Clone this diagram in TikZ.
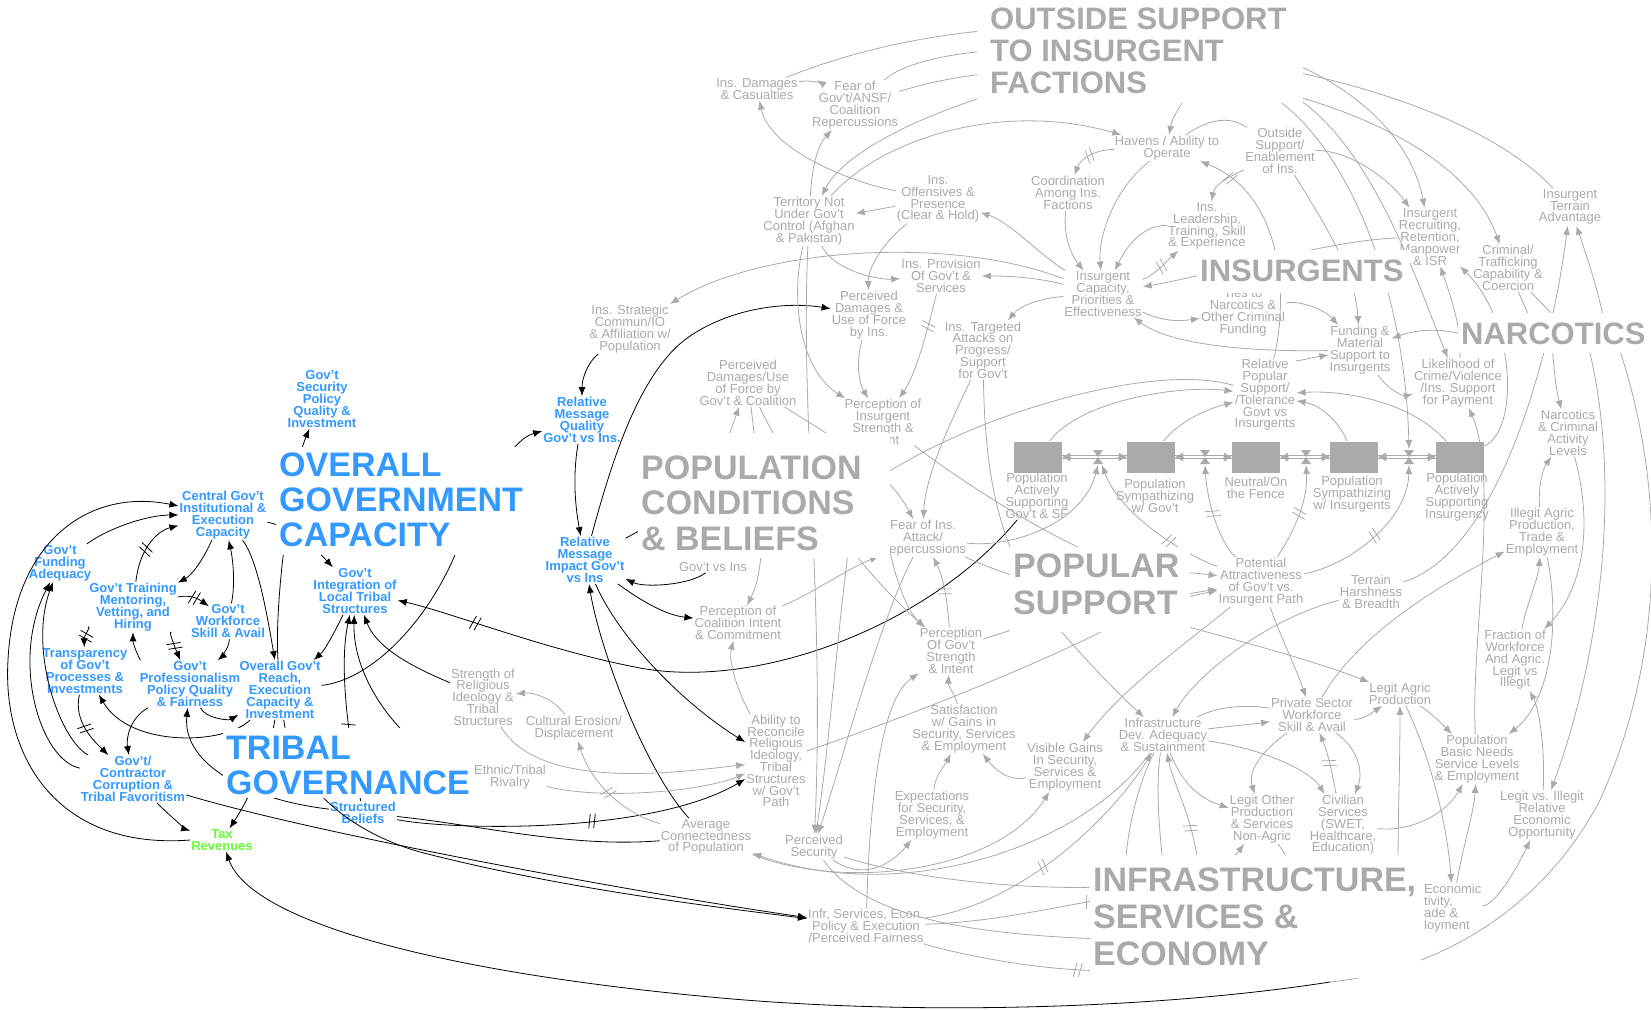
\documentclass[tikz,border=0pt]{standalone}
\usepackage{fontspec}
\setmainfont{Liberation Sans}
\usetikzlibrary{arrows.meta,decorations.markings}
\definecolor{bluec}{RGB}{51,153,255}
\definecolor{grayc}{RGB}{170,170,170}
\definecolor{greenc}{RGB}{102,255,51}
\lineskiplimit=-60pt
\tikzset{
  bt/.style={text=bluec, font=\bfseries\fontsize{13}{12}\selectfont, align=center, inner sep=1pt},
  gt/.style={text=grayc, font=\fontsize{13}{11.8}\selectfont, align=center, inner sep=1pt},
  bigl/.style={font=\bfseries\fontsize{34}{35}\selectfont, align=left, inner sep=0pt, anchor=west},
  ba/.style={draw=black, line width=0.8pt, -{Latex[length=9pt,width=7pt]}},
  bn/.style={draw=black, line width=0.8pt},
  ga/.style={draw=grayc, line width=0.8pt, -{Latex[length=9pt,width=7pt]}},
  gn/.style={draw=grayc, line width=0.8pt},
  bdel/.style={postaction={decorate,decoration={markings,mark=at position #1 with {\draw[black,line width=0.8pt,-] (-4pt,-7pt) -- (-1pt,7pt) (1pt,-7pt) -- (4pt,7pt);}}}},
  bdel/.default=0.5,
  gdel/.style={postaction={decorate,decoration={markings,mark=at position #1 with {\draw[grayc,line width=0.8pt,-] (-4pt,-7pt) -- (-1pt,7pt) (1pt,-7pt) -- (4pt,7pt);}}}},
  gdel/.default=0.5,
  stock/.style={fill=grayc, minimum width=48pt, minimum height=31pt, inner sep=0pt},
  pipetip/.style={draw=grayc, line width=0.4pt, -{Latex[length=8pt,width=9pt]}},
}
\begin{document}
\begin{tikzpicture}[x=1pt,y=-1pt]
\useasboundingbox (0,0) rectangle (1651,1010);
\fill[white] (0,0) rectangle (1651,1010);

% ---------------- blue / left nodes
\node[bt] (secpol) at (322,399) {Gov't\\Security\\Policy\\Quality \&\\Investment};
\node[bt] (central) at (223,515) {Central Gov't\\Institutional \&\\Execution\\Capacity};
\node[bt] (govfund) at (60,563) {Gov't\\Funding\\Adequacy};
\node[bt] (training) at (133,607) {Gov't Training\\Mentoring,\\Vetting, and\\Hiring};
\node[bt] (workforce) at (228,621) {Gov't\\Workforce\\Skill \& Avail};
\node[bt] (integ) at (355,591) {Gov't\\Integration of\\Local Tribal\\Structures};
\node[bt] (transp) at (85,671) {Transparency\\of Gov't\\Processes \&\\Investments};
\node[bt] (prof) at (190,684) {Gov't\\Professionalism\\Policy Quality\\\& Fairness};
\node[bt] (reach) at (280,690) {Overall Gov't\\Reach,\\Execution\\Capacity \&\\Investment};
\node[bt] (corrupt) at (133,779) {Gov't/\\Contractor\\Corruption \&\\Tribal Favoritism};
\node[bt,text=greenc] (tax) at (222,840) {Tax\\Revenues};
\node[bt] (relq) at (582,420) {Relative\\Message\\Quality\\Gov't vs Ins.};
\node[bt] (reli) at (585,560) {Relative\\Message\\Impact Gov't\\vs Ins};
\node[bt] (beliefs) at (363,813) {Structured\\Beliefs};

% ---------------- gray nodes
\node[gt] (insdam) at (757,89) {Ins. Damages\\\& Casualties};
\node[gt] (fear) at (855,105) {Fear of\\Gov't/ANSF/\\Coalition\\Repercussions};
\node[gt] (territory) at (809,221) {Territory Not\\Under Gov't\\Control (Afghan\\\& Pakistan)};
\node[gt] (strat) at (630,329) {Ins. Strategic\\Commun/IO\\\& Affiliation w/\\Population};
\node[gt] (havens) at (1167,148) {Havens / Ability to\\Operate};
\node[gt] (outsup) at (1280,151) {Outside\\Support/\\Enablement\\of Ins.};
\node[gt] (coord) at (1068,193) {Coordination\\Among Ins.\\Factions};
\node[gt] (offens) at (938,199) {Ins.\\Offensives \&\\Presence\\(Clear \& Hold)};
\node[gt] (leader) at (1207,226) {Ins.\\Leadership,\\Training, Skill\\\& Experience};
\node[gt] (provision) at (941,276) {Ins. Provision\\Of Gov't \&\\Services};
\node[gt] (inscap) at (1103,294) {Insurgent\\Capacity,\\Priorities \&\\Effectiveness};
\node[gt] (percdamins) at (869,315) {Perceived\\Damages \&\\Use of Force\\by Ins.};
\node[gt] (targeted) at (983,350) {Ins. Targeted\\Attacks on\\Progress/\\Support\\for Gov't};
\node[gt] (ties) at (1243,312) {Ties to\\Narcotics \&\\Other Criminal\\Funding};
\node[gt] (recruit) at (1430,237) {Insurgent\\Recruiting,\\Retention,\\Manpower\\\& ISR};
\node[gt] (terrain) at (1570,207) {Insurgent\\Terrain\\Advantage};
\node[gt] (criminal) at (1508,268) {Criminal/\\Trafficking\\Capability \&\\Coercion};
\node[gt] (fundmat) at (1360,350) {Funding \&\\Material\\Support to\\Insurgents};
\node[gt] (likeli) at (1458,383) {Likelihood of\\Crime/Violence\\/Ins. Support\\for Payment};
\node[gt] (relpop) at (1265,395) {Relative\\Popular\\Support/\\/Tolerance\\Govt vs\\Insurgents};
\node[gt] (narcact) at (1568,433) {Narcotics\\\& Criminal\\Activity\\Levels};
\node[stock] (s1) at (1038,457) {};
\node[stock] (s2) at (1151,457) {};
\node[stock] (s3) at (1256,457) {};
\node[stock] (s4) at (1354,457) {};
\node[stock] (s5) at (1460,457) {};
\coordinate (v12) at (1098,457);
\coordinate (v23) at (1205,457);
\coordinate (v34) at (1306,457);
\coordinate (v45) at (1409,457);
\node[gt] (l1) at (1037,496) {Population\\Actively\\Supporting\\Gov't \& SF};
\node[gt] (l2) at (1155,496) {Population\\Sympathizing\\w/ Gov't};
\node[gt] (l3) at (1256,488) {Neutral/On\\the Fence};
\node[gt] (l4) at (1352,494) {Population\\Sympathizing\\w/ Insurgents};
\node[gt] (l5) at (1457,497) {Population\\Actively\\Supporting\\Insurgency};
\node[gt] (potential) at (1261,582) {Potential\\Attractiveness\\of Gov't vs.\\Insurgent Path};
\node[gt] (harsh) at (1371,592) {Terrain\\Harshness\\\& Breadth};
\node[gt] (illegit) at (1542,532) {Illegit Agric\\Production,\\Trade \&\\Employment};
\node[gt] (fraction) at (1515,660) {Fraction of\\Workforce\\And Agric.\\Legit vs\\Illegit};
\node[gt] (percinsstr) at (883,422) {Perception of\\Insurgent\\Strength \&\\Intent};
\node[gt] (fearins) at (923,538) {Fear of Ins.\\Attack/\\Repercussions};
\node[gt] (percgovstr) at (951,651) {Perception\\Of Gov't\\Strength\\\& Intent};
\node[gt] (percdamgov) at (748,383) {Perceived\\Damages/Use\\of Force by\\Gov't \& Coalition};
\node[gt] (govvs) at (713,567) {Gov't vs Ins};
\node[gt] (perccoal) at (738,623) {Perception of\\Coalition Intent\\\& Commitment};
\node[gt] (strength) at (483,697) {Strength of\\Religious\\Ideology \&\\Tribal\\Structures};
\node[gt] (cultural) at (574,728) {Cultural Erosion/\\Displacement};
\node[gt] (ethnic) at (510,777) {Ethnic/Tribal\\Rivalry};
\node[gt] (ability) at (776,761) {Ability to\\Reconcile\\Religious\\Ideology,\\Tribal\\Structures\\w/ Gov't\\Path};
\node[gt] (avgconn) at (706,837) {Average\\Connectedness\\of Population};
\node[gt] (infr) at (866,926) {Infr, Services, Econ.\\Policy \& Execution\\/Perceived Fairness};
\node[gt] (percsec) at (814,847) {Perceived\\Security};
\node[gt] (satisf) at (964,729) {Satisfaction\\w/ Gains in\\Security, Services\\\& Employment};
\node[gt] (visible) at (1065,767) {Visible Gains\\In Security,\\Services \&\\Employment};
\node[gt] (infradev) at (1163,735) {Infrastructure\\Dev. Adequacy\\\& Sustainment};
\node[gt] (expect) at (932,815) {Expectations\\for Security,\\Services, \&\\Employment};
\node[gt] (legitagric) at (1400,694) {Legit Agric\\Production};
\node[gt] (private) at (1312,715) {Private Sector\\Workforce\\Skill \& Avail};
\node[gt] (basic) at (1477,759) {Population\\Basic Needs\\Service Levels\\\& Employment};
\node[gt] (legitother) at (1262,819) {Legit Other\\Production\\\& Services\\Non-Agric};
\node[gt] (civilian) at (1343,825) {Civilian\\Services\\(SWET,\\Healthcare,\\Education)};
\node[gt] (legitvs) at (1542,815) {Legit vs. Illegit\\Relative\\Economic\\Opportunity};
\node[gt,align=left,anchor=west] (econ) at (1423,908) {Economic\\tivity,\\ade \&\\loyment};

% hidden coordinates (under big labels)
\coordinate (o1) at (1000,92);
\coordinate (o2) at (1185,98);
\coordinate (o3) at (1275,98);
\coordinate (o4) at (1297,98);
\coordinate (n1) at (1535,330);
\coordinate (n2) at (1567,330);
\coordinate (n3) at (1470,336);
\coordinate (n4) at (1588,345);
\coordinate (n5) at (1552,345);
\coordinate (n6) at (1605,325);
\coordinate (nL1) at (1618,345);
\coordinate (nc1) at (1330,982);
\coordinate (h1) at (855,495);
\coordinate (h2) at (652,524);
\coordinate (p1) at (716,470);
\coordinate (e1) at (1150,940);
\coordinate (e2) at (1130,895);
\coordinate (e3) at (1130,970);
\coordinate (e4) at (1125,880);
\coordinate (e5) at (1165,880);
\coordinate (e6) at (1200,880);
\coordinate (e7) at (1295,875);
\coordinate (e8) at (1398,865);

% ---------------- stock pipes and valves
\foreach \a/\b/\v in {s1/s2/v12,s2/s3/v23,s3/s4/v34,s4/s5/v45}{
  \draw[grayc,line width=0.7pt] ([yshift=1.8pt]\a.east) -- ([yshift=1.8pt]\b.west) ([yshift=-1.8pt]\a.east) -- ([yshift=-1.8pt]\b.west);
  \draw[pipetip] ([xshift=-9pt]\b.west) -- (\b.west);
  \draw[pipetip] ([xshift=9pt]\a.east) -- (\a.east);
  \fill[grayc] ([shift={(-5pt,7pt)}]\v) -- ([shift={(5pt,7pt)}]\v) -- (\v) -- cycle ([shift={(-5pt,-7pt)}]\v) -- ([shift={(5pt,-7pt)}]\v) -- (\v) -- cycle;
}

% ---------------- black connectors
\draw[ba] (reach) .. controls (274,600) and (292,470) .. (secpol);
\draw[ba] (govfund) .. controls (112,526) and (150,515) .. (central);
\draw[ba] (tax.west) .. controls (60,850) and (2,760) .. (8,660) .. controls (14,540) and (90,488) .. (central);
\draw[ba] (corrupt) .. controls (40,760) and (10,660) .. (govfund);
\draw[ba] (corrupt) .. controls (60,740) and (28,650) .. (govfund);
\draw[ba] (central) .. controls (203,560) and (192,575) .. (training);
\draw[ba,bdel=0.45] (training) .. controls (140,545) and (160,530) .. (central);
\draw[ba] (workforce) .. controls (236,580) and (232,555) .. (central);
\draw[ba] (central) .. controls (258,560) and (268,620) .. (reach);
\draw[ba] (central) .. controls (290,526) and (315,548) .. (integ);
\draw[ba,bdel] ([yshift=10pt]training.east) .. controls (192,594) and (200,600) .. ([xshift=19pt,yshift=-3pt]workforce.north west);
\draw[ba,bdel] (training) .. controls (92,625) and (84,636) .. (transp);
\draw[ba,bdel] (training) .. controls (168,630) and (174,645) .. (prof);
\draw[ba] (workforce) .. controls (230,648) and (218,660) .. (prof);
\draw[ba] (prof) .. controls (140,660) and (133,645) .. (training);
\draw[ba] (integ) .. controls (333,635) and (325,650) .. (reach);
\draw[ba,bdel=0.4] (beliefs) .. controls (345,720) and (340,660) .. (integ);
\draw[ba] (strength) .. controls (425,672) and (378,652) .. (integ);
\draw[ba] (ethnic) .. controls (420,765) and (352,690) .. (integ);
\draw[ba,bdel=0.88] (l1) .. controls (930,625) and (760,690) .. (640,668) .. controls (545,650) and (450,612) .. (integ);
\draw[ba] (reach) .. controls (370,680) and (425,625) .. (455,555) .. controls (485,490) and (510,440) .. (relq);
\draw[ba] (relq) .. controls (572,480) and (576,510) .. (reli);
\draw[ba] (strat) .. controls (588,362) and (582,378) .. (relq);
\draw[ba] (reli) .. controls (612,460) and (640,370) .. (690,336) .. controls (735,306) and (790,302) .. (percdamins);
\draw[ba] (govvs) .. controls (690,585) and (645,588) .. (reli);
\draw[bn] (reli) -- (h2);
\draw[ba] (reli) .. controls (640,600) and (665,615) .. (perccoal);
\draw[ba] (reli) .. controls (620,640) and (685,705) .. (ability);
\draw[ba] (avgconn) .. controls (645,770) and (600,650) .. (reli);
\draw[ba,bdel=0.55] (beliefs) .. controls (450,830) and (650,835) .. (ability);
\draw[bn] (avgconn) .. controls (570,848) and (480,825) .. (beliefs);
\draw[ba] (reach) .. controls (268,760) and (248,800) .. (tax);
\draw[ba] (corrupt) .. controls (172,818) and (188,830) .. (tax);
\draw[ba] (beliefs) .. controls (250,800) and (182,765) .. (prof);
\draw[ba] (reach) .. controls (225,745) and (130,748) .. (transp);
\draw[ba] (prof) .. controls (205,718) and (228,721) .. (reach);
\draw[ba,bdel] (transp) .. controls (73,722) and (95,742) .. (corrupt);
\draw[ba] (prof) .. controls (130,718) and (126,738) .. (corrupt);
\draw[ba] (corrupt) .. controls (320,835) and (650,895) .. (infr);
\draw[ba] (reach) .. controls (292,785) and (350,832) .. (420,852) .. controls (560,888) and (700,905) .. (infr);
\draw[ba] (nc1) .. controls (1150,1010) and (900,1016) .. (700,996) .. controls (430,970) and (250,920) .. (tax);
\draw[gn] (nL1) .. controls (1664,480) and (1668,650) .. (1600,800) .. controls (1540,915) and (1430,972) .. (nc1);

% ---------------- gray connectors
\draw[ga] (insdam) .. controls (808,80) and (820,82) .. (fear);
\draw[ga] (insdam) .. controls (880,40) and (1000,18) .. (1150,30) .. controls (1330,45) and (1410,130) .. (recruit);
\draw[gn] (fear) .. controls (905,62) and (960,45) .. (1100,48) .. controls (1350,60) and (1500,130) .. (terrain);
\draw[ga] (fear) .. controls (930,82) and (980,68) .. (1120,66) .. controls (1350,85) and (1470,160) .. (criminal);
\draw[ga] (o1) .. controls (930,112) and (845,150) .. (territory);
\draw[ga] (territory) .. controls (880,140) and (1000,100) .. (havens);
\draw[ga] (offens) .. controls (850,182) and (770,150) .. (insdam);
\draw[ga] (offens) .. controls (885,208) and (870,211) .. (territory);
\draw[ga] (territory) .. controls (812,165) and (818,145) .. (fear);
\draw[ga] (inscap) .. controls (950,235) and (760,248) .. (strat);
\draw[ga] (territory) .. controls (835,272) and (880,280) .. (provision);
\draw[ga] (offens) .. controls (880,245) and (868,270) .. (percdamins);
\draw[ga] (inscap) .. controls (1040,255) and (1010,222) .. (offens);
\draw[ga] (inscap) .. controls (1030,276) and (1000,276) .. (provision);
\draw[ga] (inscap) .. controls (1040,298) and (1020,306) .. (targeted);
\draw[ga,gdel] (havens) .. controls (1092,150) and (1080,160) .. (coord);
\draw[ga] (havens) .. controls (1112,190) and (1098,240) .. (inscap);
\draw[ga] (coord) .. controls (1062,240) and (1075,260) .. (inscap);
\draw[ga] (leader) .. controls (1140,225) and (1125,250) .. (inscap);
\draw[ga,gdel] (inscap) .. controls (1155,275) and (1170,258) .. (leader);
\draw[ga] (recruit) .. controls (1330,240) and (1225,272) .. (inscap);
\draw[ga] (inscap) .. controls (1160,320) and (1175,322) .. (ties);
\draw[ga,gdel=0.85] (relpop) .. controls (1288,300) and (1285,195) .. (havens);
\draw[ga] (o2) .. controls (1178,110) and (1172,118) .. (havens);
\draw[gn] (havens) .. controls (1200,125) and (1225,112) .. (outsup);
\draw[ga] (outsup) .. controls (1240,172) and (1215,182) .. (leader);
\draw[ga] (outsup) .. controls (1350,150) and (1390,180) .. (recruit);
\draw[ga] (outsup) .. controls (1322,220) and (1355,270) .. (fundmat);
\draw[ga] (ties) .. controls (1300,300) and (1325,310) .. (fundmat);
\draw[ga] (o3) .. controls (1350,150) and (1405,290) .. ([yshift=8pt]v45);
\draw[ga] (o4) .. controls (1375,150) and (1420,290) .. (likeli);
\draw[ga] (likeli) .. controls (1462,330) and (1452,300) .. (recruit);
\draw[ga] (s5) .. controls (1520,430) and (1515,320) .. (recruit);
\draw[gn] (criminal) -- (n1);
\draw[gn] (criminal) -- (n2);
\draw[ga] (n3) .. controls (1440,327) and (1415,330) .. (fundmat);
\draw[ga] (fundmat) .. controls (1390,392) and (1405,396) .. (likeli);
\draw[ga] (relpop) .. controls (1295,362) and (1310,358) .. (fundmat);
\draw[ga] (s4) .. controls (1338,420) and (1320,405) .. (relpop);
\draw[ga] (s5) .. controls (1410,400) and (1340,390) .. (relpop);
\draw[ga] (s1) .. controls (1080,400) and (1180,385) .. (relpop);
\draw[ga] (s2) .. controls (1180,420) and (1210,408) .. (relpop);
\draw[gn] (relpop) .. controls (1150,360) and (950,420) .. (h1);
\draw[ga] (percdamgov) .. controls (820,430) and (885,465) .. (fearins);
\draw[ga] (percdamins) .. controls (855,365) and (860,385) .. (percinsstr);
\draw[ga,gdel=0.3] (provision) .. controls (925,340) and (915,375) .. (percinsstr);
\draw[ga] (territory) .. controls (790,300) and (800,370) .. (percinsstr);
\draw[ga] (territory) .. controls (800,420) and (825,600) .. (percsec);
\draw[ga] (fearins) .. controls (880,620) and (842,760) .. (percsec);
\draw[ga] (percinsstr) .. controls (845,500) and (836,700) .. (percsec);
\draw[ga] (targeted) .. controls (962,400) and (925,470) .. (fearins);
\draw[ga] (targeted) .. controls (985,480) and (1000,560) .. (1060,630) .. controls (1090,665) and (1120,695) .. (infradev);
\draw[ga] (percinsstr) .. controls (960,480) and (1050,540) .. (1120,565) .. controls (1160,572) and (1190,572) .. (potential);
\draw[ga] (fearins) .. controls (1010,548) and (1082,525) .. ([yshift=-8pt]v12);
\draw[ga,gdel=0.35] (potential) .. controls (1185,555) and (1120,515) .. ([yshift=-8pt,xshift=4pt]v12);
\draw[ga,gdel] (potential) .. controls (1218,540) and (1207,500) .. ([yshift=-8pt]v23);
\draw[ga,gdel] (potential) .. controls (1295,530) and (1308,500) .. ([yshift=-8pt]v34);
\draw[ga,gdel] (potential) .. controls (1350,565) and (1408,520) .. ([yshift=-8pt]v45);
\draw[ga,gdel] (percgovstr) .. controls (948,610) and (945,580) .. (fearins);
\draw[ga] (percgovstr) .. controls (1050,615) and (1150,600) .. (potential);
\draw[ga] (ability) .. controls (900,720) and (1050,660) .. (1120,622) .. controls (1160,602) and (1190,596) .. (potential);
\draw[ga] (potential) .. controls (1190,640) and (1120,690) .. (visible);
\draw[ga] (fearins) .. controls (1060,600) and (1260,640) .. (legitagric);
\draw[ga] (infradev) .. controls (1230,726) and (1255,724) .. (private);
\draw[gn] (infradev) .. controls (1220,705) and (1250,705) .. (private);
\draw[ga] (infradev) .. controls (1260,748) and (1310,770) .. (civilian);
\draw[ga] (private) .. controls (1260,752) and (1248,772) .. (legitother);
\draw[ga] (private) .. controls (1362,720) and (1370,714) .. (legitagric);
\draw[ga,gdel] (civilian) .. controls (1333,780) and (1330,758) .. (private);
\draw[ga] (private) .. controls (1362,752) and (1362,776) .. (civilian);
\draw[ga] (legitagric) .. controls (1430,712) and (1440,722) .. (basic);
\draw[ga] (legitagric) .. controls (1432,760) and (1448,830) .. (econ);
\draw[ga] (econ) .. controls (1462,850) and (1474,812) .. (basic);
\draw[ga] (civilian) .. controls (1410,832) and (1445,815) .. (basic);
\draw[ga] (legitvs) .. controls (1545,750) and (1540,712) .. (fraction);
\draw[ga] (econ) .. controls (1495,905) and (1515,872) .. (legitvs);
\draw[ga] (illegit) .. controls (1560,620) and (1552,700) .. (basic);
\draw[ga] (narcact) .. controls (1592,520) and (1586,585) .. (fraction);
\draw[ga] (n4) .. controls (1622,480) and (1602,650) .. (legitvs);
\draw[ga] (fraction) .. controls (1528,600) and (1538,580) .. (illegit);
\draw[ga] (illegit) .. controls (1538,490) and (1542,470) .. (narcact);
\draw[ga] (n5) .. controls (1554,370) and (1556,390) .. (narcact);
\draw[ga] (n6) .. controls (1598,290) and (1588,260) .. (terrain);
\draw[ga] (harsh) .. controls (1500,552) and (1552,350) .. (terrain);
\draw[ga] (basic) .. controls (1470,650) and (1500,480) .. (likeli);
\draw[ga] (private) .. controls (1360,630) and (1450,580) .. (illegit);
\draw[ga] (potential) .. controls (1282,640) and (1296,668) .. (private);
\draw[ga] (harsh) .. controls (1262,620) and (1192,680) .. (infradev);
\draw[ga] (percsec) .. controls (862,880) and (890,866) .. (expect);
\draw[ga] (avgconn) .. controls (850,892) and (1000,870) .. (visible);
\draw[ga] (infradev) .. controls (1080,850) and (900,905) .. (avgconn);
\draw[ga] (percsec) .. controls (950,892) and (1200,905) .. (legitother);
\draw[gn] (percsec) .. controls (870,925) and (1000,938) .. (e1);
\draw[ga] (expect) .. controls (935,775) and (945,765) .. (satisf);
\draw[ga] (visible) .. controls (1010,782) and (995,770) .. (satisf);
\draw[ga] (satisf) .. controls (955,695) and (948,685) .. (percgovstr);
\draw[ga] (infr) .. controls (870,800) and (880,700) .. (percgovstr);
\draw[ga,gdel=0.45] (infr) .. controls (1020,905) and (1110,820) .. (infradev);
\draw[gn,gdel=0.8] (infr) .. controls (1000,922) and (1060,905) .. (e2);
\draw[gn,gdel=0.75] (infr) .. controls (950,952) and (1050,975) .. (e3);
\draw[gn] (infradev) .. controls (1140,780) and (1125,830) .. (e4);
\draw[gn] (infradev) .. controls (1155,790) and (1160,840) .. (e5);
\draw[ga,gdel=0.4] (e6) .. controls (1195,820) and (1175,790) .. (infradev);
\draw[ga] (infradev) .. controls (1185,790) and (1205,800) .. (legitother);
\draw[gn] (legitother) .. controls (1282,850) and (1290,860) .. (e7);
\draw[ga] (e8) .. controls (1398,820) and (1400,760) .. (legitagric);
\draw[ga] (ability) .. controls (738,692) and (728,662) .. (perccoal);
\draw[ga] (strength) .. controls (540,792) and (680,772) .. (ability);
\draw[ga] (ethnic) .. controls (600,800) and (700,792) .. (ability);
\draw[ga] (cultural) .. controls (555,700) and (535,692) .. (strength);
\draw[ga,gdel] (avgconn) .. controls (620,812) and (590,780) .. (cultural);
\draw[ga] (p1) -- (percdamgov);
\draw[ga] (percdamgov) .. controls (760,480) and (770,560) .. (perccoal);
\draw[ga] (percdamgov) .. controls (790,470) and (850,560) .. (percgovstr);
\draw[ga] (percinsstr) .. controls (875,500) and (895,600) .. (percgovstr);
\draw[ga] (perccoal) .. controls (810,595) and (845,570) .. (fearins);
\draw[ga] (fundmat) .. controls (1250,352) and (1170,345) .. (inscap);

% ---------------- big sector labels (white boxes cover what passes beneath)
\fill[white] (276,447) rectangle (526,555);
\fill[white] (223,728) rectangle (474,798);
\fill[white] (638,433) rectangle (890,558);
\fill[white] (977,0) rectangle (1303,103);
\fill[white] (1197,250) rectangle (1410,293);
\fill[white] (1458,313) rectangle (1651,353);
\fill[white] (1010,547) rectangle (1190,632);
\fill[white] (1090,855) rectangle (1421,978);
\node[bigl,text=bluec] (lblgov) at (279,500) {OVERALL\\GOVERNMENT\\CAPACITY};
\node[bigl,text=bluec] (lbltrib) at (226,765) {TRIBAL\\GOVERNANCE};
\node[bigl,text=grayc,font=\bfseries\fontsize{34}{35.5}\selectfont] (lblpop) at (641,503) {POPULATION\\CONDITIONS\\\& BELIEFS};
\node[bigl,text=grayc,font=\bfseries\fontsize{31}{32}\selectfont] (lblout) at (990,51) {OUTSIDE SUPPORT\\TO INSURGENT\\FACTIONS};
\node[bigl,text=grayc,font=\bfseries\fontsize{31}{32}\selectfont] (lblins) at (1200,271) {INSURGENTS};
\node[bigl,text=grayc,font=\bfseries\fontsize{31}{32}\selectfont] (lblnarc) at (1461,334) {NARCOTICS};
\node[bigl,text=grayc,font=\bfseries\fontsize{34}{37}\selectfont] (lblpsup) at (1013,584) {POPULAR\\SUPPORT};
\node[bigl,text=grayc,font=\bfseries\fontsize{34}{37}\selectfont] (lblinfra) at (1093,917) {INFRASTRUCTURE,\\SERVICES \&\\ECONOMY};
\end{tikzpicture}
\end{document}
